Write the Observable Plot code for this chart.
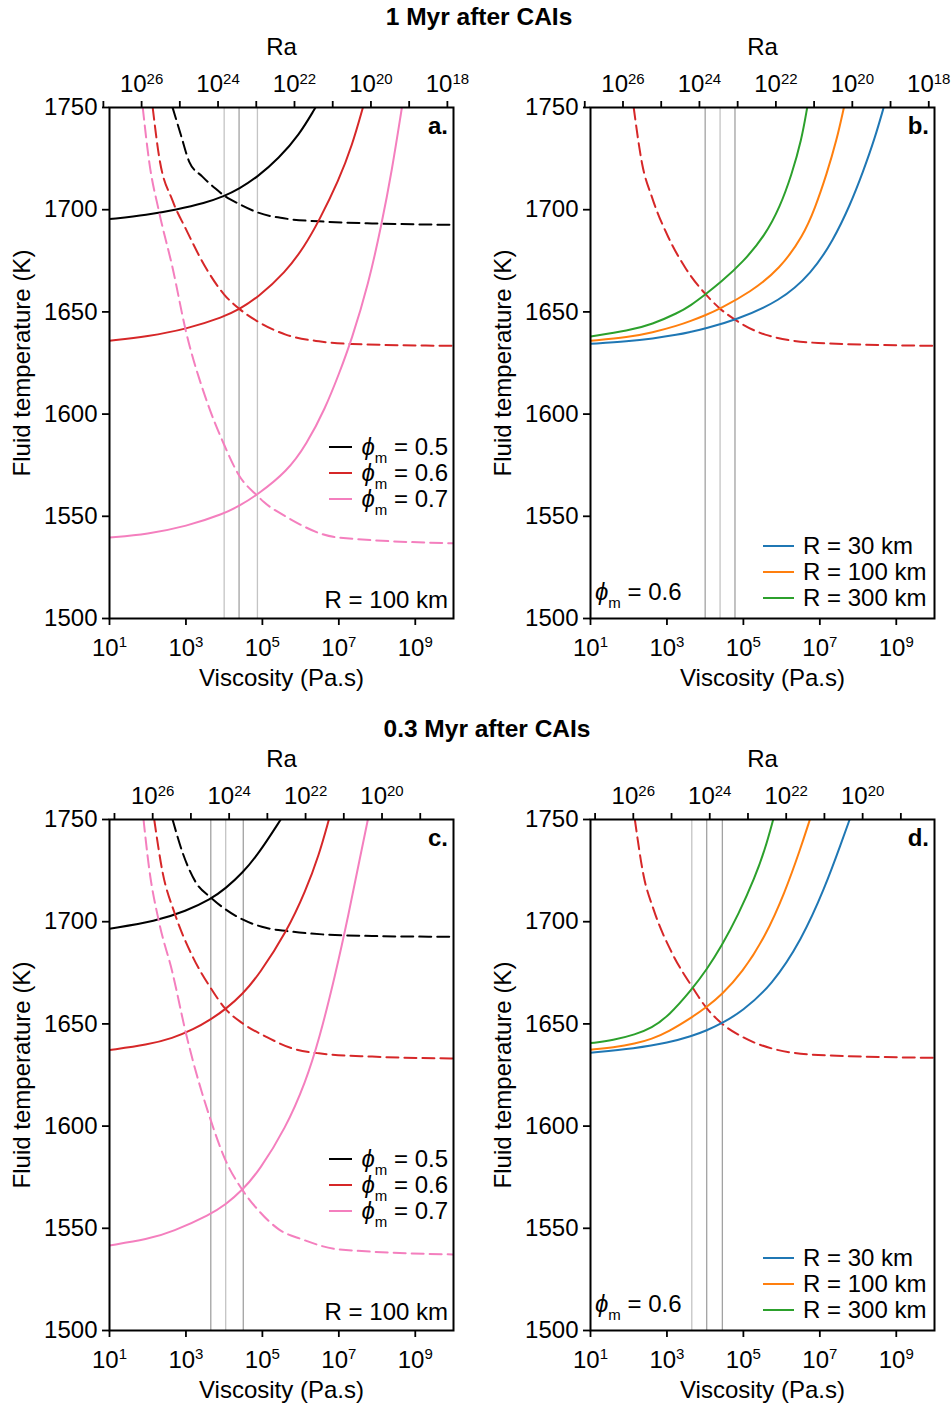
<!DOCTYPE html>
<html><head><meta charset="utf-8">
<script src="https://cdn.jsdelivr.net/npm/d3@7"></script>
<script src="https://cdn.jsdelivr.net/npm/@observablehq/plot@0.6"></script>
<style>
html,body{margin:0;padding:0;background:#fff;}
#root{position:relative;width:952px;height:1404px;overflow:hidden;font-family:"Liberation Sans",Arial,Helvetica,sans-serif;}
.title{position:absolute;font-weight:bold;font-size:24.5px;line-height:30px;white-space:nowrap;transform:translateX(-50%);color:#000;}
.panel{position:absolute;}
svg text{white-space:pre;}
</style></head><body>
<div id="root"></div>
<script>
// ---------------- DATA (x = log10 viscosity [Pa.s], y = fluid temperature [K]) ----------------
const titles = ["1 Myr after CAIs", "0.3 Myr after CAIs"];
const viscTickExps = [1, 3, 5, 7, 9];
const tempTicks = [1500, 1550, 1600, 1650, 1700, 1750];
const raExponents = [17, 18, 19, 20, 21, 22, 23, 24, 25, 26, 27, 28];
const raLogProduct = {a: 27.84, b: 27.85, c: 28.13, d: 28.12}; // log10(Ra * viscosity)
const phiLabels = ["0.5", "0.6", "0.7"];
const radiusLabels = ["30", "100", "300"];

// Panel a (1 Myr, R = 100 km)
const aSolid05 = [[1,1695.4],[2,1697.5],[2.74,1700.0],[3.5,1703.3],[4,1706.6],[4.39,1710.2],[4.87,1716.0],[5.43,1725.2],[5.96,1736.5],[6.39,1750]];
const aDash05  = [[2.65,1750],[2.87,1736.4],[3.09,1723.3],[3.43,1716.2],[3.78,1710.2],[4.0,1706.9],[4.39,1702.8],[4.87,1698.7],[5.7,1695.4],[6.48,1694.3],[7.87,1693.3],[10,1692.6]];
const aSolid06 = [[1,1635.9],[2,1638],[3,1641.5],[4,1647.6],[4.39,1651.2],[4.87,1656.9],[5.61,1669.5],[6.1,1682],[6.48,1694.5],[7,1714.5],[7.35,1731.5],[7.63,1750]];
const aDash06  = [[2.13,1750],[2.3,1725.7],[2.65,1704.4],[3.0,1690.5],[3.52,1671.6],[4.0,1658.5],[4.39,1651.6],[4.87,1645.4],[5.61,1638.9],[6.48,1635.6],[7.35,1634.3],[10,1633.4]];
const aSolid07 = [[1,1539.6],[2,1541.3],[3,1545.0],[4,1551.3],[4.39,1555],[4.87,1560.5],[5.65,1572],[6.15,1585],[6.65,1603],[7,1619.5],[7.33,1636],[7.78,1664],[8.11,1692],[8.39,1719.2],[8.65,1750]];
const aDash07  = [[1.87,1750],[2.04,1723.3],[2.3,1698.7],[2.65,1671.6],[3.0,1640.5],[3.52,1607.7],[4.0,1585],[4.39,1570],[4.87,1560],[5.04,1557],[5.65,1549.5],[6.95,1539.7],[10,1536.8]];
const aRules = [4.0, 4.39, 4.87];

// Panel b (1 Myr, phi_m = 0.6)
const bDash    = [[2.13,1750],[2.35,1722.5],[2.61,1706],[3.04,1686.4],[3.48,1671.6],[4.0,1658.9],[4.39,1651.6],[4.78,1646.2],[5.57,1638.9],[6.96,1634.8],[10,1633.4]];
const bR30     = [[1,1634.4],[2,1635.6],[2.61,1636.9],[3.3,1638.9],[3.61,1640.2],[4.0,1641.8],[4.78,1645.9],[5.96,1655.2],[6.79,1669.0],[7.35,1685.0],[7.79,1702.2],[8.13,1718.5],[8.44,1735.0],[8.67,1750]];
const bR100    = [[1,1635.9],[2,1637.6],[2.61,1639.8],[3.3,1643.4],[3.61,1645.5],[4.0,1648.3],[4.39,1651.6],[5.17,1659.5],[5.96,1671.0],[6.57,1687.5],[6.87,1700.5],[7.18,1717.5],[7.44,1734.0],[7.63,1750]];
const bR300    = [[1,1638],[2,1640.8],[2.61,1643.9],[3.3,1649.6],[3.61,1653.0],[4.0,1658.5],[4.39,1664.2],[5.0,1674.5],[5.57,1687.5],[5.96,1701.5],[6.26,1717.0],[6.52,1734.0],[6.67,1750]];
const bRules = [4.0, 4.39, 4.78];

// Panel c (0.3 Myr, R = 100 km)
const cSolid05 = [[1,1696.6],[2.22,1700.3],[3.0,1705.2],[3.65,1711.0],[4.04,1716.3],[4.48,1723.8],[4.91,1733.5],[5.48,1750]];
const cDash05  = [[2.65,1750],[2.91,1733.9],[3.26,1719.2],[3.65,1711.8],[4.04,1706],[4.48,1701.1],[5.09,1697],[5.65,1695.4],[6.57,1693.8],[7.87,1693],[10,1692.6]];
const cSolid06 = [[1,1637.2],[2,1639.8],[2.65,1643.0],[3.2,1647.3],[3.65,1652.2],[4.04,1657.2],[4.48,1664.5],[4.91,1674.0],[5.65,1695.5],[6.13,1715.0],[6.48,1732.5],[6.74,1750]];
const cDash06  = [[2.17,1750],[2.39,1724.1],[2.7,1704.4],[3.17,1683.1],[3.65,1667.5],[4.04,1657.2],[4.48,1650.3],[5.09,1643.8],[5.78,1638],[6.48,1635.6],[7.87,1634],[10,1633.1]];
const cSolid07 = [[1,1541.6],[2,1544.6],[2.65,1548.3],[3.65,1556.9],[4.04,1561.6],[4.48,1568.7],[4.91,1578.0],[5.61,1599.0],[6.13,1621.5],[6.48,1642.0],[6.91,1674.0],[7.26,1704],[7.55,1731],[7.76,1750]];
const cDash07  = [[1.89,1750],[2.04,1725.7],[2.3,1699.5],[2.65,1674.9],[3.0,1645.4],[3.65,1602.8],[4.04,1583.1],[4.48,1568.7],[4.91,1558.5],[5.43,1549.5],[6.04,1544.6],[7.0,1539.7],[10,1537.2]];
const cRules = [3.65, 4.04, 4.50];

// Panel d (0.3 Myr, phi_m = 0.6)
const dDash    = [[2.16,1750],[2.39,1722.5],[2.65,1706],[3.13,1684.8],[3.65,1668.4],[4.04,1657.7],[4.43,1650.3],[4.96,1643.8],[5.74,1638],[6.96,1634.8],[10,1633.4]];
const dR30     = [[1,1635.9],[2.17,1638],[3.04,1640.8],[3.65,1644.0],[4.04,1646.8],[4.43,1650.2],[4.96,1656.0],[5.74,1668.8],[6.52,1691.0],[7.13,1716.5],[7.57,1739],[7.78,1750]];
const dR100    = [[1,1637.4],[1.6,1638.5],[2.17,1640.3],[2.6,1642.6],[3.04,1646.2],[3.65,1653.2],[4.04,1658.2],[4.43,1664.2],[4.96,1674.9],[5.57,1692.5],[6.09,1714.5],[6.48,1735.0],[6.74,1750]];
const dR300    = [[1,1640.6],[1.6,1642.0],[2.17,1644.8],[2.6,1648.0],[3.04,1653.8],[3.65,1666.8],[4.04,1676.6],[4.43,1688.0],[4.87,1703.5],[5.30,1721.6],[5.57,1735.6],[5.78,1750]];
const dRules = [3.65, 4.04, 4.45];

// ---------------- STYLE ----------------
const FONT = '"Liberation Sans", Arial, Helvetica, sans-serif';
const phiColors = ["#000000", "#d62728", "#f47fbe"];
const radiusColors = ["#1f77b4", "#ff7f0e", "#2ca02c"];
const ruleShades = {a: ["#c4c4c4", "#a2a2a2", "#c4c4c4"], b: ["#a2a2a2", "#c4c4c4", "#a2a2a2"],
                    c: ["#a2a2a2", "#c4c4c4", "#a2a2a2"], d: ["#c4c4c4", "#a2a2a2", "#a2a2a2"]};
const DASH = "12,6";

const panels = [
  {id: "a", left: 0, top: 34, width: 481, marginRight: 28, kind: "phi",
   series: [[aSolid05, 0, false], [aDash05, 0, true], [aSolid06, 1, false], [aDash06, 1, true], [aSolid07, 2, false], [aDash07, 2, true]], rules: aRules},
  {id: "b", left: 481, top: 34, width: 471, marginRight: 18, kind: "radius",
   series: [[bDash, -1, true], [bR30, 0, false], [bR100, 1, false], [bR300, 2, false]], rules: bRules},
  {id: "c", left: 0, top: 746, width: 481, marginRight: 28, kind: "phi",
   series: [[cSolid05, 0, false], [cDash05, 0, true], [cSolid06, 1, false], [cDash06, 1, true], [cSolid07, 2, false], [cDash07, 2, true]], rules: cRules},
  {id: "d", left: 481, top: 746, width: 471, marginRight: 18, kind: "radius",
   series: [[dDash, -1, true], [dR30, 0, false], [dR100, 1, false], [dR300, 2, false]], rules: dRules}
];

const root = document.getElementById("root");
[[titles[0], 479, 2], [titles[1], 487, 714]].forEach(([t, cx, top]) => {
  const d = document.createElement("div");
  d.className = "title"; d.textContent = t; d.style.left = cx + "px"; d.style.top = top + "px";
  root.appendChild(d);
});

function phiText(g, x, y, anchor, value) {
  const t = g.append("text").attr("x", x).attr("y", y).attr("text-anchor", anchor).attr("dy", "0.35em");
  t.append("tspan").attr("font-style", "italic").text("\u03D5");
  t.append("tspan").attr("font-size", 15).attr("dy", 8).text("m");
  t.append("tspan").attr("dy", -8).text(" = " + value);
  return t;
}

function annotations(p) {
  return (index, scales, values, dim) => {
    const L = dim.marginLeft, R = dim.width - dim.marginRight, T = dim.marginTop, B = dim.height - dim.marginBottom;
    const g = d3.create("svg:g").attr("font-family", FONT).attr("font-size", 24).attr("fill", "#000");
    g.append("text").attr("x", R - 5).attr("y", T + 19).attr("dy", "0.35em").attr("text-anchor", "end")
      .attr("font-weight", "bold").text(p.id + ".");
    if (p.kind === "phi") {
      g.append("text").attr("x", R - 5).attr("y", B - 18).attr("dy", "0.35em").attr("text-anchor", "end").text("R = 100 km");
      phiLabels.forEach((lab, i) => {
        const y = B - 171 + i * 26;
        g.append("line").attr("x1", R - 124).attr("x2", R - 101).attr("y1", y).attr("y2", y)
          .attr("stroke", phiColors[i]).attr("stroke-width", 2);
        phiText(g, R - 5, y, "end", lab);
      });
    } else {
      phiText(g, L + 5, B - 26, "start", "0.6");
      radiusLabels.forEach((lab, i) => {
        const y = B - 72 + i * 26;
        g.append("line").attr("x1", R - 171).attr("x2", R - 140).attr("y1", y).attr("y2", y)
          .attr("stroke", radiusColors[i]).attr("stroke-width", 2);
        g.append("text").attr("x", R - 131).attr("y", y).attr("dy", "0.35em").attr("text-anchor", "start")
          .text("R = " + lab + " km");
      });
    }
    return g.node();
  };
}

function superscripts(svg) {
  svg.querySelectorAll("text").forEach(t => {
    const m = /^10\^(\d+)$/.exec(t.textContent.trim());
    if (!m) return;
    t.textContent = "10";
    const ts = document.createElementNS("http://www.w3.org/2000/svg", "tspan");
    ts.setAttribute("font-size", "15");
    ts.setAttribute("dy", "-0.55em");
    ts.textContent = m[1];
    t.appendChild(ts);
  });
}

panels.forEach(p => {
  const raLog = raLogProduct[p.id];
  const raTicks = raExponents.map(e => 10 ** (raLog - e)).filter(v => Math.log10(v) >= 0.8 && Math.log10(v) <= 10.01);
  const raExp = v => Math.round(raLog - Math.log10(v));
  const raLabelTicks = raTicks.filter(v => raExp(v) % 2 === 0 && Math.log10(v) >= 1);
  const lineMarks = p.series.map(([data, ci, dashed]) => Plot.line(data, {
    x: d => 10 ** d[0], y: d => d[1],
    stroke: ci < 0 ? phiColors[1] : (p.kind === "phi" ? phiColors[ci] : radiusColors[ci]),
    strokeWidth: 2, strokeDasharray: dashed ? DASH : null, curve: dashed ? "monotone-x" : "basis", clip: true
  }));
  const svg = Plot.plot({
    width: p.width, height: 658,
    marginTop: 73, marginBottom: 74, marginLeft: 109, marginRight: p.marginRight,
    style: {fontFamily: FONT, fontSize: "24px", color: "#000", background: "#fff", overflow: "visible"},
    x: {type: "log", domain: [10, 1e10]},
    y: {domain: [1500, 1750]},
    marks: [
      Plot.ruleX(p.rules, {x: d => 10 ** d, stroke: (d, i) => ruleShades[p.id][i], strokeWidth: 1.3}),
      ...lineMarks,
      Plot.frame({stroke: "#000", strokeWidth: 2}),
      Plot.axisX({anchor: "bottom", ticks: viscTickExps.map(e => 10 ** e), tickFormat: v => `10^${Math.round(Math.log10(v))}`,
                  tickSize: 7, tickPadding: 13, strokeWidth: 1.8, label: null}),
      Plot.axisX({anchor: "top", ticks: raTicks, tickFormat: null, tickSize: 7, strokeWidth: 1.8, label: null}),
      Plot.text(raLabelTicks, {x: d => d, text: d => `10^${raExp(d)}`, frameAnchor: "top", dy: -23, lineAnchor: "middle", fontSize: 24}),
      Plot.axisY({anchor: "left", ticks: tempTicks, tickFormat: d => String(d), tickSize: 7, tickPadding: 5, strokeWidth: 1.8, label: null}),
      Plot.text(["Viscosity (Pa.s)"], {text: d => d, frameAnchor: "bottom", dy: 60, lineAnchor: "middle", fontSize: 24}),
      Plot.text(["Ra"], {text: d => d, frameAnchor: "top", dy: -60, lineAnchor: "middle", fontSize: 24}),
      Plot.text(["Fluid temperature (K)"], {text: d => d, frameAnchor: "left", dx: -87, rotate: -90, textAnchor: "middle", lineAnchor: "middle", fontSize: 24}),
      annotations(p)
    ]
  });
  superscripts(svg);
  const holder = document.createElement("div");
  holder.className = "panel"; holder.style.left = p.left + "px"; holder.style.top = p.top + "px";
  holder.appendChild(svg);
  root.appendChild(holder);
});
</script>
</body></html>
